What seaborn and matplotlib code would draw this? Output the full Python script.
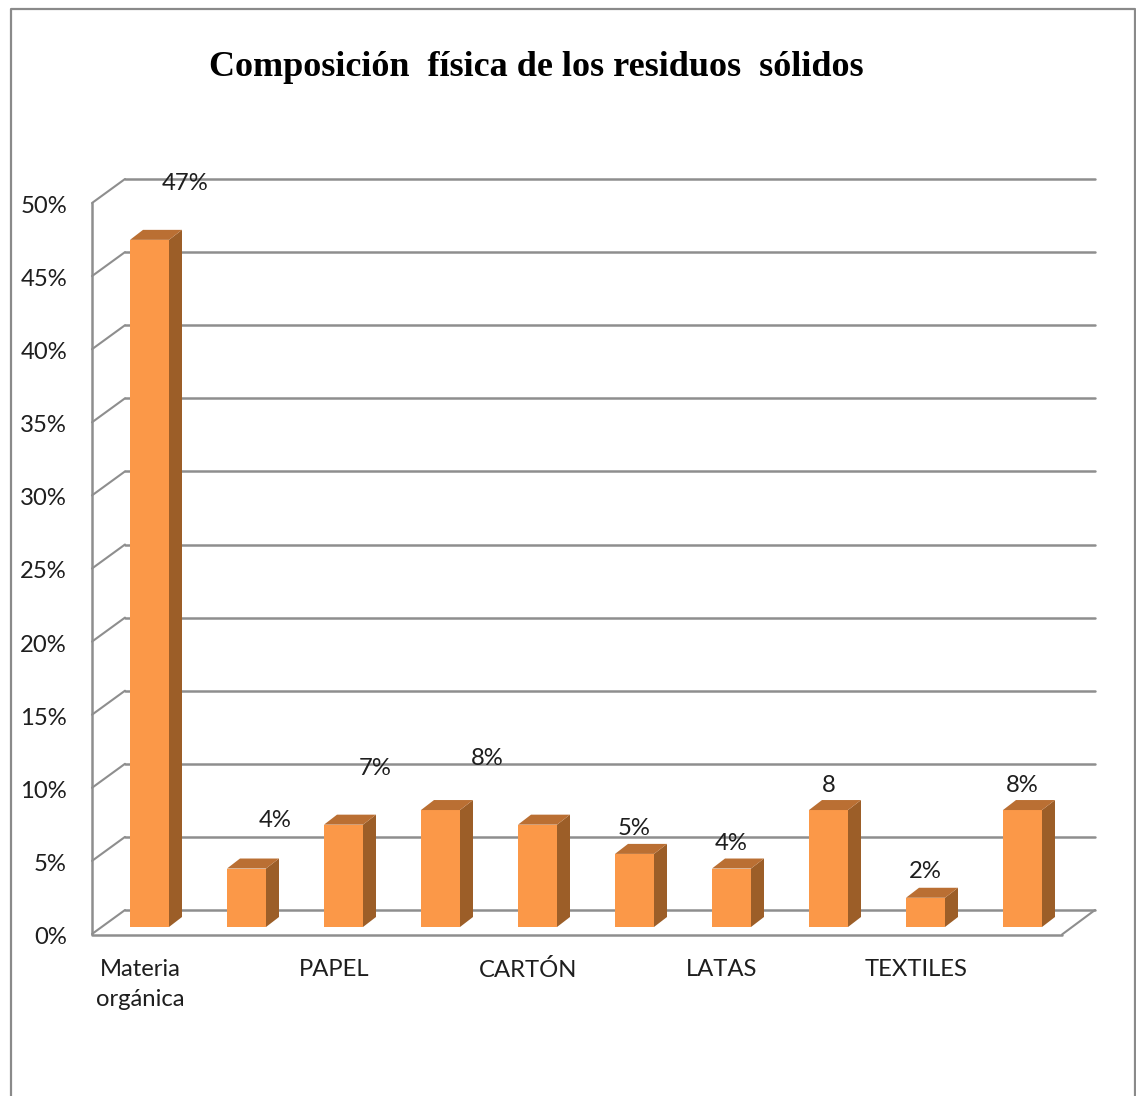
import matplotlib
matplotlib.use("Agg")
import matplotlib.pyplot as plt
import seaborn as sns
from matplotlib.lines import Line2D
from matplotlib.transforms import ScaledTranslation

positions = [0, 1, 2, 3, 4, 5, 6, 7, 8, 9]
values = [47, 4, 7, 8, 7, 5, 4, 8, 2, 8]
tick_labels = ["Materia\norgánica", "", "PAPEL", "", "CARTÓN", "", "LATAS", "", "TEXTILES", ""]
value_labels = ["47%", "4%", "7%", "8%", "", "5%", "4%", "8", "2%", "8%"]
y_ticks = [0, 5, 10, 15, 20, 25, 30, 35, 40, 45, 50]
title = "Composición  física de los residuos  sólidos"

W, H = 1136, 1096
DPI = 100
STEP = 97.0
UNIT = 14.62
LEFT, BASE = 101.0, 927.0
FRONT, SIDE, TOP = "#FB9848", "#9C5E28", "#BA6F33"
GREY = "#8E8E8E"
TEXT = "#1E1E1E"
FS = 17.2

sns.set_theme(style="white")
plt.rcParams["font.family"] = ["Lato", "DejaVu Sans"]

fig = plt.figure(figsize=(W / DPI, H / DPI), dpi=DPI, facecolor="white")
ax = fig.add_axes([LEFT / W, (H - BASE) / H, STEP * 10 / W, UNIT * 50 / H])
ax.patch.set_alpha(0)

BAR_W = 39 / STEP
sns.barplot(x=positions, y=values, color=FRONT, saturation=1, width=BAR_W, ax=ax, zorder=4, linewidth=0)
ax.set_xlim(-0.5, 9.5)
ax.set_ylim(0, 50)
for s in ax.spines.values():
    s.set_visible(False)
ax.set_xlabel("")
ax.set_ylabel("")


def dx(px):
    return px / STEP


def dy(px):
    return px / UNIT


def xp(px):
    return (px - LEFT) / STEP - 0.5


# walls and floor
WALL_LW = 1.8
for v in y_ticks:
    ax.plot([xp(125), xp(1095)], [v + dy(17)] * 2, color=GREY, lw=WALL_LW, clip_on=False, zorder=1)
    ax.plot([xp(92), xp(125)], [v - dy(7), v + dy(17)], color=GREY, lw=1.5, clip_on=False, zorder=1)
ax.plot([xp(92), xp(92)], [-dy(7), 50 - dy(7)], color=GREY, lw=WALL_LW, clip_on=False, zorder=2)
ax.plot([xp(92), xp(1062)], [-dy(7.5)] * 2, color=GREY, lw=WALL_LW, clip_on=False, zorder=2)
ax.plot([xp(1062), xp(1095)], [-dy(7.5), dy(17)], color=GREY, lw=1.5, clip_on=False, zorder=2)

# bar depth
DX, DY = dx(13), dy(10)
for x, v in zip(positions, values):
    l, r = x - BAR_W / 2, x + BAR_W / 2
    ax.fill([r, r + DX, r + DX, r], [0, DY, v + DY, v], color=SIDE, lw=0, clip_on=False, zorder=4)
    ax.fill([l, r, r + DX, l + DX], [v, v, v + DY, v + DY], color=TOP, lw=0, clip_on=False, zorder=4)

# value labels, with pixel offsets from the top of each bar
label_offsets = [(36, 56), (29, 48), (32, 56), (47, 52), (0, 0), (0, 25), (0, 25), (0, 25), (0, 26), (0, 25)]
for x, v, t, (ox, oy) in zip(positions, values, value_labels, label_offsets):
    if t:
        ax.annotate(t, (x, v), xytext=(ox * 72 / DPI, oy * 72 / DPI), textcoords="offset points",
                    ha="center", va="center", fontsize=FS, color=TEXT, zorder=6, annotation_clip=False)

# axis labels
ax.set_yticks(y_ticks)
ax.set_yticklabels([f"{v}%" for v in y_ticks], fontsize=FS, color=TEXT)
ax.tick_params(axis="y", length=0, pad=0, left=False)
ax.set_xticks(positions)
ax.set_xticklabels(tick_labels, fontsize=FS, color=TEXT, linespacing=1.5)
ax.tick_params(axis="x", length=0, pad=0, bottom=False)
for lab in ax.get_yticklabels():
    lab.set_transform(lab.get_transform() + ScaledTranslation(-34 / DPI, -8.5 / DPI, fig.dpi_scale_trans))
for lab in ax.get_xticklabels():
    lab.set_transform(lab.get_transform() + ScaledTranslation(-9.5 / DPI, -32 / DPI, fig.dpi_scale_trans))

# title and outer frame
fig.text(536 / W, 1 - 67 / H, title, ha="center", va="center", family="Liberation Serif",
         weight="bold", fontsize=26, color="#000000")
fx = [11 / W, 11 / W, 1135 / W, 1135 / W]
fy = [0, 1 - 9 / H, 1 - 9 / H, 0]
fig.add_artist(Line2D(fx, fy, color="#8A8A8A", lw=1.6, transform=fig.transFigure))

fig.savefig("out.png", dpi=DPI)
